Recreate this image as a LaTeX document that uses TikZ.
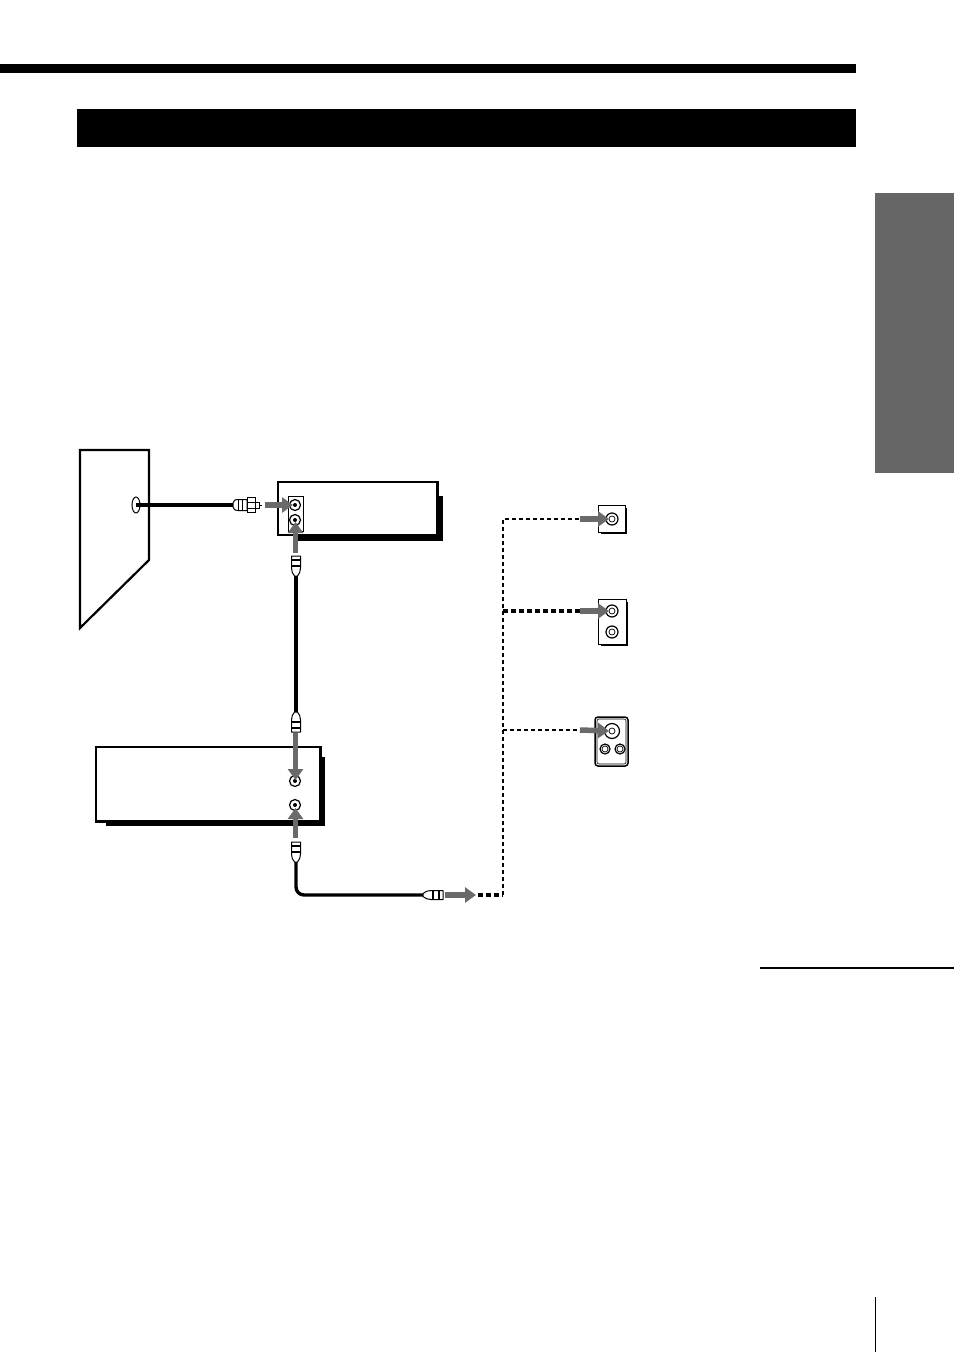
\documentclass[tikz,border=0pt]{standalone}
\usetikzlibrary{arrows.meta,shapes.geometric}
\definecolor{arrowgray}{HTML}{6A6A6A}
\tikzset{
  blackbar/.style={fill=black,draw=none},
  device/.style={draw=black,line width=2.2pt,fill=white},
  cable/.style={line width=3.4pt,black},
  thincable/.style={line width=1.5pt,dash pattern=on 4pt off 3pt,black},
  thickcable/.style={line width=3.2pt,dash pattern=on 5pt off 3pt,black},
  feedarrow/.style={line width=5.5pt,arrowgray,-{Triangle[length=11pt,width=15pt]}},
  jack/.style={circle,draw=black,line width=1.2pt,fill=white,minimum size=11pt,inner sep=0pt},
  pics/coaxplug/.style={code={
    \draw[black,line width=1pt,fill=white,line join=round] (-1.5,0) .. controls (-3.5,-2) and (-4.5,-5) .. (-4.5,-8) -- (-4.5,-20) -- (4.5,-20) -- (4.5,-8) .. controls (4.5,-5) and (3.5,-2) .. (1.5,0) -- cycle;
    \draw[black,line width=1.6pt] (-4.5,-10) -- (4.5,-10) (-4.5,-16) -- (4.5,-16);
  }},
  pics/fplug/.style={code={
    \draw[black,line width=1pt,fill=white,line join=round] (0,-2) .. controls (2,-5.5) .. (5,-5.5) -- (14,-5.5) -- (14,5.5) -- (5,5.5) .. controls (2,5.5) .. (0,2) -- cycle;
    \draw[black,line width=1pt] (5,-5.5) -- (5,5.5) (9,-5.5) -- (9,5.5);
    \draw[black,line width=1pt,fill=white] (14,-7.5) rectangle (22,7.5);
    \draw[black,line width=1pt] (14,-3) -- (22,-3) (14,3) -- (22,3);
    \draw[black,line width=1pt,fill=white] (22,-3) rectangle (26,3);
    \draw[black,line width=1pt] (27,0) -- (29,0);
  }}
}
\begin{document}
\begin{tikzpicture}[x=1pt,y=-1pt,>=latex]
\useasboundingbox (0,0) rectangle (954,1352);
%% page furniture
\fill[blackbar] (0,64) rectangle (856,73);
\fill[blackbar] (77,109) rectangle (856,147);
\fill[fill=black!60] (875,193) rectangle (954,473);
\draw[line width=2pt] (760,968) -- (954,968);
\draw[line width=1pt] (875,1297) -- (875,1352);
%% wall
\draw[device,line join=miter] (80,450) -- (149,450) -- (149,560) -- (80,628) -- cycle;
\node (wall_hole) at (136,505) [draw,ellipse,line width=1pt,minimum width=8pt,minimum height=16pt,inner sep=0pt] {};
%% upper box
\fill (298,496) rectangle (442.5,540.5);
\draw[device] (278,482) rectangle (437.5,535);
\draw[line width=.8pt,fill=white] (288,496) rectangle (303,531);
\node (vcr_in) at (295,505) [jack] {};
\node (vcr_out) at (295,520) [jack] {};
\fill (295,505) circle (2pt) (295,520) circle (2pt);
%% lower box
\fill (106,757) rectangle (325,826);
\draw[device] (96,747) rectangle (320.5,821.5);
\node (tv_in) at (295,781) [jack] {};
\node (tv_out) at (295,805) [jack] {};
\fill (295,781) circle (2pt) (295,805) circle (2pt);
%% wall plates
\fill (601,508) rectangle (627,534);
\draw[line width=1pt,fill=white] (598.5,505.5) rectangle (625.5,532.5);
\node (plate_a) at (612,519) [jack,minimum size=12pt] {};
\fill (601,602) rectangle (628,646);
\draw[line width=1pt,fill=white] (598.5,599.5) rectangle (626,644);
\node (plate_b) at (612,611) [jack,minimum size=12pt] {};
\node (plate_b2) at (612,632) [jack,minimum size=12pt] {};
\draw[line width=1.5pt,fill=white,rounded corners=3pt] (595,717) rectangle (628,766);
\draw[line width=.6pt,rounded corners=2pt] (597,719) rectangle (626,764);
\node (plate_c) at (612,731) [jack,minimum size=15pt] {};
\node (plate_c2) at (605,749) [jack,minimum size=10pt] {};
\node (plate_c3) at (620,749) [jack,minimum size=10pt] {};
\foreach \p in {plate_a,plate_b,plate_b2,plate_c,plate_c2,plate_c3}
  \draw[line width=.7pt] (\p) circle (3pt);
%% cables
\coordinate (plug_f) at (233,505);
\coordinate (plug_a) at (296,576);
\coordinate (plug_b) at (296,712);
\coordinate (plug_c) at (296,862);
\coordinate (plug_d) at (423,895);
\draw[cable] (wall_hole.center) -- (plug_f);
\draw[cable] (plug_a) -- (plug_b);
\draw[cable,rounded corners=8pt] (plug_c) |- (plug_d);
\pic at (plug_f) {fplug};
\pic at (plug_a) {coaxplug};
\pic[rotate=180] at (plug_b) {coaxplug};
\pic at (plug_c) {coaxplug};
\pic[rotate=-90] at (plug_d) {coaxplug};
%% dashed run
\coordinate (run_start) at (478,895);
\coordinate (run_corner) at (503,895);
\coordinate (run_top) at (503,519);
\coordinate (run_mid) at (503,611);
\coordinate (run_low) at (503,730);
\coordinate (run_a) at (582,519);
\coordinate (run_b) at (582,611);
\coordinate (run_c) at (582,730);
\draw[thickcable] (run_start) -- (run_corner);
\draw[thincable] (run_corner) -- (run_top) -- (run_a);
\draw[thickcable] (run_mid) -- (run_b);
\draw[thincable] (run_low) -- (run_c);
%% feed arrows
\draw[feedarrow,shorten >=2pt] (265,505) -- (vcr_in.center);
\draw[feedarrow] (295.5,553) -- (295.5,522);
\draw[feedarrow] (295.5,733) -- (295.5,780);
\draw[feedarrow] (295.5,838) -- (295.5,808);
\draw[feedarrow] (445,895) -- (476,895);
\draw[feedarrow,shorten >=3pt] (580,519) -- (plate_a.center);
\draw[feedarrow,shorten >=3pt] (580,611) -- (plate_b.center);
\draw[feedarrow,shorten >=3pt] (580,730) -- (plate_c.center);
\end{tikzpicture}
\end{document}
